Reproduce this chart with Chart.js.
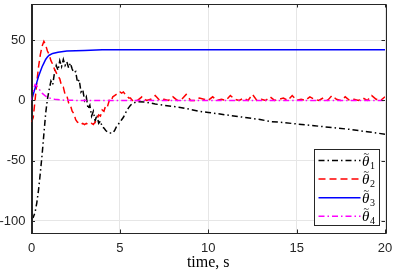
<!DOCTYPE html>
<html><head><meta charset="utf-8">
<script src="https://cdn.jsdelivr.net/npm/chart.js@4/dist/chart.umd.min.js"></script>
<style>html,body{margin:0;padding:0;background:#fff}#w{width:393px;height:275px;position:relative}</style>
</head><body><div id="w"><canvas id="c"></canvas></div>
<script>
// ---- data ----
const time1 = [0,0.1,0.2,0.3,0.4,0.5,0.6,0.7,0.8,0.9,1.0,1.1,1.2,1.3,1.4,1.5,1.6,1.7,1.8,1.9,2.0,2.1,2.2,2.3,2.4,2.5,2.6,2.7,2.8,2.9,3.0,3.1,3.2,3.3,3.4,3.5,3.6,3.7,3.8,3.9,4.0,4.1,4.2,4.3,4.4,4.5,4.6,4.7,4.8,4.9,5.0,5.1,5.2,5.3,5.4,5.5,5.6,5.7,5.8,5.9,6.0,
  6.5,7,7.5,8,8.5,9,9.5,10,11,12,13,13.5,14,15,16,17,18,19,20];
const theta1 = [-98,-97,-93,-85,-74,-60,-45,-28,-11,1,9,16,13,23,29,25,33,28,34,29,32,27,31,26,23,24,15,17,7,9,0,3,-7,-4,-13,-9,-17,-12,-19,-17,-22,-23,-25,-26,-27,-27,-27,-25,-22,-20,-18,-16,-14,-11,-8,-6,-4,-3,-2,-1.5,-1,
  -1.5,-3,-4,-5,-6,-7.5,-9,-10,-12,-14,-16,-17.5,-18,-19.5,-21,-22.5,-24,-26,-28];

const time2 = [0,0.1,0.2,0.3,0.4,0.5,0.6,0.7,0.8,0.9,1.0,1.1,1.2,1.3,1.4,1.5,1.6,1.7,1.8,1.9,2.0,2.1,2.2,2.3,2.4,2.5,2.6,2.7,2.8,2.9,3.0,3.1,3.2,3.3,3.4,3.5,3.6,3.7,3.8,3.9,4.0,4.1,4.2,4.3,4.4,4.5,4.6,4.7,4.8,4.9,5.0,5.1,5.2,5.3,5.4,5.5,5.6,5.7,5.8,5.9,6.0,
  6.25,6.5,6.75,7,7.25,7.5,7.75,8,8.25,8.5,8.75,9,9.25,9.5,9.75,10,10.25,10.5,10.75,11,11.25,11.5,11.75,12,12.25,12.5,12.75,13,13.25,13.5,13.75,14,14.25,14.5,14.75,15,15.25,15.5,15.75,16,16.25,16.5,16.75,17,17.25,17.5,17.75,18,18.25,18.5,18.75,19,19.25,19.5,19.75,20];
const theta2 = [-18,-14,0,15,28,38,45,49,46,41,38,33,30,26,23,20,18,12,11,5,4,-2,-4,-9,-11,-16,-18,-19,-20,-19,-20,-19,-20,-20,-19,-20,-18,-16,-12,-13,-8,-9,-4,-5,0,-1,3,4,5,6,7,6,7,5,4,2,2,0,1,0,0,
  3,0,1,4,0,1,0,3,0,1,5,0,0,2,1,0,3,0,1,0,4,1,0,2,0,5,0,1,0,3,0,1,2,0,4,0,1,0,3,1,0,2,0,4,1,0,3,0,1,0,2,0,4,1,0,3];

const time3 = [0,0.1,0.2,0.3,0.4,0.5,0.6,0.7,0.8,0.9,1.0,1.2,1.5,2,3,4,6,10,15,20];
const theta3 = [0,5,10,15,20,24,28,31,34,36,37.5,39,40,41,41.5,42,42,42,42,42];

const time4 = [0,0.1,0.2,0.3,0.4,0.5,0.6,0.8,1.0,1.3,1.7,2.5,5,10,20];
const theta4 = [0,8,13,12,10,8,6,3.5,2,1,0.3,0,0,0,0];

const xTicks = [0,5,10,15,20];
const yTicks = [-100,-50,0,50];
const seriesNames = ['1','2','3','4'];
const xTitle = 'time, s';

function pts(t, v){ return t.map((x,i)=>({x:x, y:v[i]})); }

const styles = [
  {color:'#000000', dash:[6,3,1.5,3], order:4},
  {color:'#ff0000', dash:[7,4], order:3},
  {color:'#0000ff', dash:[], order:2},
  {color:'#ff00ff', dash:[6,3,1.5,3], order:1}
];
const series = [pts(time1,theta1), pts(time2,theta2), pts(time3,theta3), pts(time4,theta4)];

const axisColor = '#262626';

const boxPlugin = {
  id:'box',
  afterDraw(chart){
    const ctx = chart.ctx, a = chart.chartArea;
    const xs = chart.scales.x, ys = chart.scales.y;
    ctx.save();
    ctx.strokeStyle = axisColor; ctx.lineWidth = 1;
    ctx.beginPath();
    ctx.rect(Math.round(a.left)+0.5, Math.round(a.top)+0.5, Math.round(a.right-a.left), Math.round(a.bottom-a.top));
    ctx.stroke();
    // inward ticks
    ctx.beginPath();
    const L = 3.5;
    xTicks.forEach(v=>{
      const px = Math.round(xs.getPixelForValue(v))+0.5;
      ctx.moveTo(px, a.bottom); ctx.lineTo(px, a.bottom-L);
      ctx.moveTo(px, a.top); ctx.lineTo(px, a.top+L);
    });
    yTicks.forEach(v=>{
      const py = Math.round(ys.getPixelForValue(v))+0.5;
      ctx.moveTo(a.left, py); ctx.lineTo(a.left+L, py);
      ctx.moveTo(a.right, py); ctx.lineTo(a.right-L, py);
    });
    ctx.stroke();
    // legend
    const bw = 65, bh = 76;
    const bx = Math.round(a.right - 6 - bw)+0.5, by = Math.round(a.bottom - 8 - bh)+0.5;
    ctx.fillStyle = '#ffffff';
    ctx.fillRect(bx, by, bw, bh);
    ctx.strokeStyle = axisColor; ctx.lineWidth = 1;
    ctx.strokeRect(bx, by, bw, bh);
    chart.data.datasets.forEach((ds,i)=>{
      const yy = by + 11 + i*18.6;
      ctx.save();
      ctx.strokeStyle = ds.borderColor; ctx.lineWidth = ds.borderWidth;
      ctx.setLineDash(ds.borderDash || []);
      ctx.beginPath(); ctx.moveTo(bx+4, yy); ctx.lineTo(bx+46, yy); ctx.stroke();
      ctx.restore();
      ctx.fillStyle = '#000';
      ctx.textBaseline = 'alphabetic'; ctx.textAlign = 'left';
      ctx.font = 'italic 15px "Liberation Serif"';
      const tx = bx+47.5, base = yy+5;
      ctx.fillText('\u03b8', tx, base);
      ctx.font = '10px "Liberation Serif"';
      ctx.fillText('~', tx+1.5, base-9);
      ctx.font = '10px "Liberation Serif"';
      ctx.fillText(seriesNames[i], tx+8, base+3);
    });
    ctx.restore();
  }
};

function noPad(s){ s.paddingTop = 0; s.paddingBottom = 0; s.paddingLeft = 0; s.paddingRight = 0; }

new Chart(document.getElementById('c'), {
  type:'line',
  data:{
    datasets: series.map((d,i)=>({
      label:'theta'+seriesNames[i],
      data:d,
      borderColor:styles[i].color,
      backgroundColor:styles[i].color,
      borderDash:styles[i].dash,
      borderWidth:1.5,
      pointRadius:0,
      tension:0,
      fill:false,
      order:styles[i].order
    }))
  },
  options:{
    responsive:true, maintainAspectRatio:false, animation:false,
    layout:{padding:{top:4, right:8, left:0, bottom:0}},
    plugins:{legend:{display:false}, tooltip:{enabled:false}},
    scales:{
      x:{
        type:'linear', min:0, max:20,
        afterBuildTicks(s){ s.ticks = xTicks.map(v=>({value:v})); },
        afterFit(s){ s.height = 42; noPad(s); },
        grid:{color:'#e6e6e6', drawTicks:false},
        border:{color:axisColor},
        ticks:{color:axisColor, font:{family:'"Liberation Sans"', size:13}, padding:8, maxRotation:0},
        title:{display:true, text:xTitle, color:'#000', font:{family:'"Liberation Serif"', size:16}, padding:{top:0,bottom:3}}
      },
      y:{
        type:'linear', min:-110, max:80,
        afterBuildTicks(s){ s.ticks = yTicks.map(v=>({value:v})); },
        afterFit(s){ s.width = 31.5; noPad(s); },
        grid:{color:'#e6e6e6', drawTicks:false},
        border:{color:axisColor},
        ticks:{color:axisColor, font:{family:'"Liberation Sans"', size:13}, padding:6}
      }
    }
  },
  plugins:[boxPlugin]
});
</script>
</body></html>
